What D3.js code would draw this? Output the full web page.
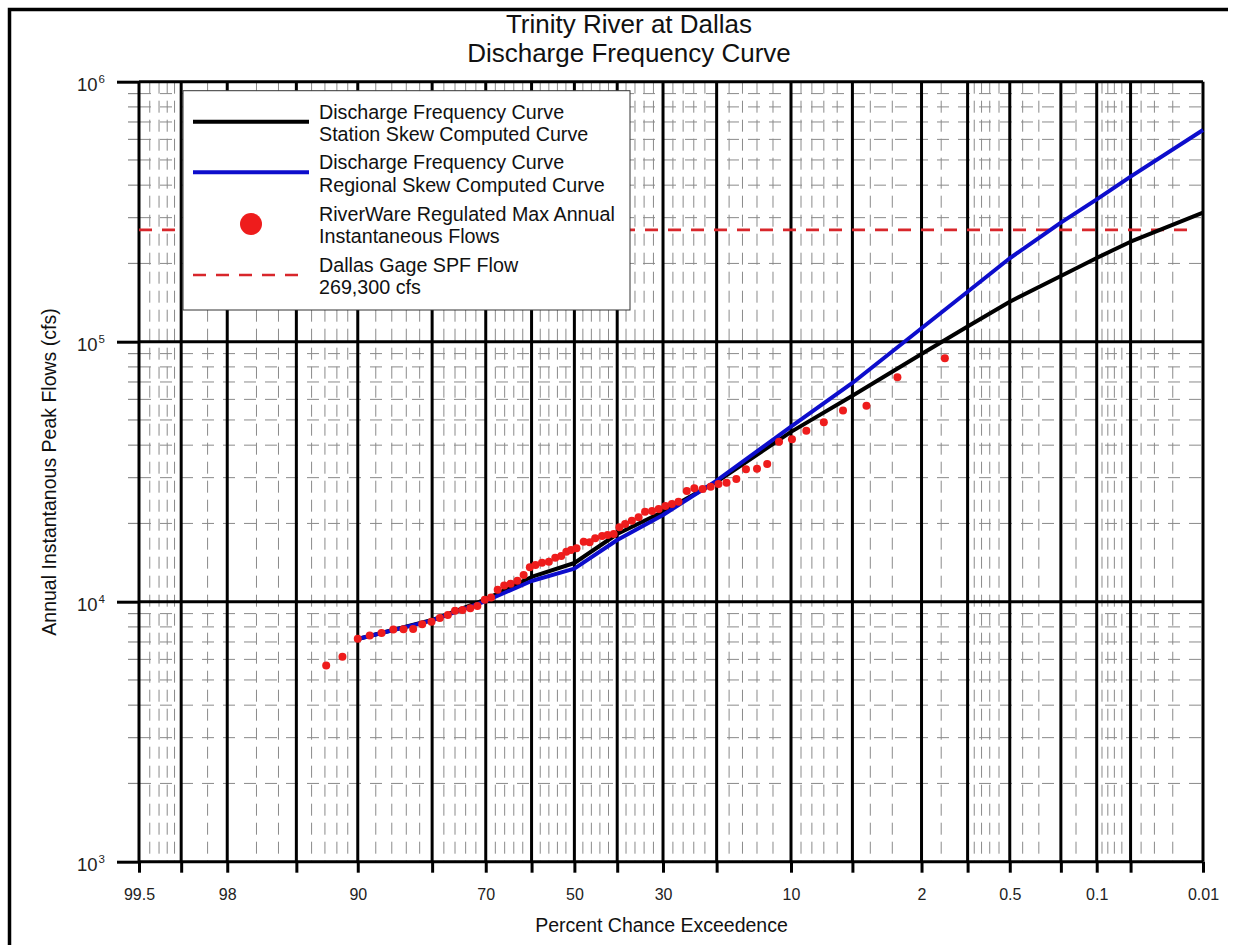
<!DOCTYPE html>
<html>
<head>
<meta charset="utf-8">
<script src="https://cdn.jsdelivr.net/npm/d3@7/dist/d3.min.js"></script>
<style>
  html, body { margin: 0; padding: 0; background: #fff; }
  svg { display: block; font-family: "Liberation Sans", Arial, sans-serif; }
</style>
</head>
<body>
<svg id="chart" width="1239" height="945"></svg>
<script>
// ---- Data ---------------------------------------------------------------
// Exceedance probabilities (%) at which the computed frequency curves are given
const curvePct = [90, 80, 70, 60, 50, 40, 30, 20, 10, 5, 2, 1, 0.5, 0.2, 0.1, 0.05, 0.01];
// Station skew computed curve (cfs)
const stationSkewCfs = [7190, 8500, 10210, 12450, 14090, 18210, 22190, 28900, 45000, 62000, 89700, 114500, 142500, 179000, 210000, 242400, 313400];
// Regional skew computed curve (cfs)
const regionalSkewCfs = [7190, 8480, 10060, 12010, 13400, 17270, 21560, 29200, 47100, 69400, 112600, 155700, 209400, 286900, 352900, 431100, 652000];

// RiverWare regulated max annual instantaneous flows: plotting position (%) and flow (cfs)
const observedPct = [92.9, 91.5, 90.0, 88.7, 87.3, 85.8, 84.4, 83.0, 81.6, 80.1,
  78.7, 77.3, 76.0, 74.6, 73.1, 71.7, 70.2, 68.9, 67.5, 66.1,
  64.7, 63.2, 61.8, 60.4, 59.1, 57.6, 56.0, 54.5, 53.1, 51.9,
  50.8, 49.5, 47.8, 46.4, 45.1, 43.5, 42.2, 40.8, 39.5, 38.2,
  36.7, 35.2, 33.8, 32.3, 30.9, 29.5, 28.2, 26.9, 25.3, 23.9,
  22.4, 21.0, 19.7, 18.4, 16.9, 15.5, 14.0, 12.7, 11.3, 9.9,
  8.5, 7.0, 5.6, 4.2, 2.8, 1.42];
const observedCfs = [5680, 6140, 7200, 7410, 7580, 7820, 7830, 7850, 8190, 8380,
  8660, 8890, 9230, 9290, 9430, 9630, 10180, 10380, 11120, 11540,
  11730, 12030, 12670, 13560, 13840, 14130, 14250, 14760, 14990, 15570,
  15810, 16050, 17010, 16920, 17530, 17890, 18050, 18210, 19330, 19900,
  20490, 21120, 22190, 22330, 22730, 23340, 23760, 24250, 26660, 27310,
  27140, 27690, 28360, 28690, 29650, 32300, 32470, 33850, 41250, 42130,
  45480, 48980, 54380, 56730, 72960, 86340];

// Standard project flood at the Dallas gage (cfs)
const spfFlow = 269300;

// Probability axis: heavy grid lines, labelled ticks and light grid lines
const majorPct = [99.5, 99, 98, 95, 90, 80, 70, 60, 50, 40, 30, 20, 10, 5, 2, 1, 0.5, 0.2, 0.1, 0.05, 0.01];
const labelledPct = ["99.5", "98", "90", "70", "50", "30", "10", "2", "0.5", "0.1", "0.01"];
const minorPct = [99.4, 99.3, 99.2, 99.1, 98.5, 97, 96, 94, 93, 92, 91, 88, 86, 84, 82,
  78, 76, 74, 72, 68, 66, 64, 62, 58, 56, 54, 52, 48, 46, 44, 42, 38, 36, 34, 32,
  28, 26, 24, 22, 18, 16, 14, 12, 9, 8, 7, 6, 4, 3, 1.5, 0.9, 0.8, 0.7, 0.6,
  0.4, 0.3, 0.15, 0.09, 0.08, 0.07, 0.06, 0.04, 0.03, 0.02];
// Flow axis decades and intermediate multipliers
const decades = [1e3, 1e4, 1e5, 1e6];
const decadeExp = ["3", "4", "5", "6"];
const minorMult = [2, 3, 4, 5, 6, 7, 8, 9];

const titleLines = ["Trinity River at Dallas", "Discharge Frequency Curve"];
const legendItems = [
  ["Discharge Frequency Curve", "Station Skew Computed Curve"],
  ["Discharge Frequency Curve", "Regional Skew Computed Curve"],
  ["RiverWare Regulated Max Annual", "Instantaneous Flows"],
  ["Dallas Gage SPF Flow", "269,300 cfs"]
];

// ---- Normal probability scale ---------------------------------------------
// Inverse standard normal CDF (Acklam's rational approximation)
function qnorm(p) {
  const a = [-3.969683028665376e+01, 2.209460984245205e+02, -2.759285104469687e+02, 1.383577518672690e+02, -3.066479806614716e+01, 2.506628277459239e+00];
  const b = [-5.447609879822406e+01, 1.615858368580409e+02, -1.556989798598866e+02, 6.680131188771972e+01, -1.328068155288572e+01];
  const c = [-7.784894002430293e-03, -3.223964580411365e-01, -2.400758277161838e+00, -2.549732539343734e+00, 4.374664141464968e+00, 2.938163982698783e+00];
  const d = [7.784695709041462e-03, 3.224671290700398e-01, 2.445134137142996e+00, 3.754408661907416e+00];
  const pl = 0.02425, ph = 1 - pl;
  if (p < pl) {
    const q = Math.sqrt(-2 * Math.log(p));
    return (((((c[0]*q+c[1])*q+c[2])*q+c[3])*q+c[4])*q+c[5]) / ((((d[0]*q+d[1])*q+d[2])*q+d[3])*q+1);
  }
  if (p <= ph) {
    const q = p - 0.5, r = q * q;
    return (((((a[0]*r+a[1])*r+a[2])*r+a[3])*r+a[4])*r+a[5])*q / (((((b[0]*r+b[1])*r+b[2])*r+b[3])*r+b[4])*r+1);
  }
  const q = Math.sqrt(-2 * Math.log(1 - p));
  return -(((((c[0]*q+c[1])*q+c[2])*q+c[3])*q+c[4])*q+c[5]) / ((((d[0]*q+d[1])*q+d[2])*q+d[3])*q+1);
}
const zOf = pct => qnorm(1 - pct / 100);

const plot = { left: 139, right: 1203, top: 81.7, bottom: 861.7 };
const xz = d3.scaleLinear().domain([zOf(99.5), zOf(0.01)]).range([plot.left, plot.right]);
const x = pct => xz(zOf(pct));
const y = d3.scaleLog().domain([1e3, 1e6]).range([plot.bottom, plot.top]);

const svg = d3.select("#chart");

// ---- Outer frame ------------------------------------------------------------
svg.append("path")
  .attr("d", "M9.5,945 L9.5,9.5 L1228,9.5")
  .attr("fill", "none").attr("stroke", "#000").attr("stroke-width", 3.5);

// ---- Light grid ---------------------------------------------------------------
const grid = svg.append("g");
grid.selectAll("line.vminor").data(minorPct).join("line")
  .attr("x1", d => x(d)).attr("x2", d => x(d))
  .attr("y1", plot.top).attr("y2", plot.bottom)
  .attr("stroke", "#8a8a8a").attr("stroke-width", 1)
  .attr("stroke-dasharray", "12,7");

const minorFlows = [];
decades.slice(0, 3).forEach(dec => minorMult.forEach(m => minorFlows.push(dec * m)));
grid.selectAll("line.hminor").data(minorFlows).join("line")
  .attr("x1", plot.left).attr("x2", plot.right)
  .attr("y1", d => y(d)).attr("y2", d => y(d))
  .attr("stroke", "#8a8a8a").attr("stroke-width", 1)
  .attr("stroke-dasharray", "12,9");
grid.selectAll("line.hminortick").data(minorFlows).join("line")
  .attr("x1", plot.left - 11).attr("x2", plot.left)
  .attr("y1", d => y(d)).attr("y2", d => y(d))
  .attr("stroke", "#8a8a8a").attr("stroke-width", 1.2);

// ---- Heavy grid -----------------------------------------------------------------
grid.selectAll("line.vmajor").data(majorPct).join("line")
  .attr("x1", d => x(d)).attr("x2", d => x(d))
  .attr("y1", plot.top).attr("y2", plot.bottom)
  .attr("stroke", "#000").attr("stroke-width", 3);
grid.selectAll("line.hmajor").data(decades).join("line")
  .attr("x1", plot.left).attr("x2", plot.right)
  .attr("y1", d => y(d)).attr("y2", d => y(d))
  .attr("stroke", "#000").attr("stroke-width", 3);

// ---- Axes -------------------------------------------------------------------------
const xAxis = d3.axisBottom(xz)
  .tickValues(majorPct.map(zOf))
  .tickSize(11)
  .tickPadding(15.6)
  .tickFormat((z, i) => labelledPct.includes(String(majorPct[i])) ? String(majorPct[i]) : "");
const gx = svg.append("g")
  .attr("transform", `translate(0,${plot.bottom})`)
  .call(xAxis);
gx.select(".domain").remove();
gx.selectAll(".tick line").attr("stroke", "#000").attr("stroke-width", 3);
gx.selectAll(".tick text").attr("font-size", 16).attr("fill", "#222")
  .attr("font-family", "Liberation Sans, Arial, sans-serif");

const yAxis = d3.axisLeft(y).tickValues(decades).tickSize(22).tickFormat("");
const gy = svg.append("g")
  .attr("transform", `translate(${plot.left},0)`)
  .call(yAxis);
gy.select(".domain").remove();
gy.selectAll(".tick line").attr("stroke", "#000").attr("stroke-width", 3);
gy.selectAll(".tick").each(function (d, i) {
  const t = d3.select(this);
  t.append("text").attr("x", -41.5).attr("y", 9)
    .attr("text-anchor", "end").attr("font-size", 18.5).attr("fill", "#222")
    .text("10");
  t.append("text").attr("x", -40.5).attr("y", 1)
    .attr("text-anchor", "start").attr("font-size", 11.5).attr("fill", "#222")
    .text(decadeExp[i]);
});

// ---- SPF reference line --------------------------------------------------------
svg.append("line")
  .attr("x1", plot.left).attr("x2", plot.right - 8)
  .attr("y1", y(spfFlow)).attr("y2", y(spfFlow))
  .attr("stroke", "#d8262b").attr("stroke-width", 2.6)
  .attr("stroke-dasharray", "13,10");

// ---- Frequency curves ------------------------------------------------------------
const line = d3.line().x(d => x(d[0])).y(d => y(d[1]));
svg.append("path")
  .datum(curvePct.map((p, i) => [p, stationSkewCfs[i]]))
  .attr("d", line).attr("fill", "none")
  .attr("stroke", "#000").attr("stroke-width", 4).attr("stroke-linejoin", "round");
svg.append("path")
  .datum(curvePct.map((p, i) => [p, regionalSkewCfs[i]]))
  .attr("d", line).attr("fill", "none")
  .attr("stroke", "#0d0dcc").attr("stroke-width", 4).attr("stroke-linejoin", "round");

// ---- Observed annual peaks -----------------------------------------------------------
svg.append("g").selectAll("circle")
  .data(observedPct.map((p, i) => [p, observedCfs[i]]))
  .join("circle")
  .attr("cx", d => x(d[0])).attr("cy", d => y(d[1])).attr("r", 4)
  .attr("fill", "#ee1c1c");

// ---- Legend -------------------------------------------------------------------------
const lg = svg.append("g");
lg.append("rect")
  .attr("x", 183).attr("y", 90.7).attr("width", 447).attr("height", 219.3)
  .attr("fill", "#fff").attr("stroke", "#333").attr("stroke-width", 1);
const rowY = [121.7, 172.3, 224, 275];
lg.append("line").attr("x1", 193).attr("x2", 309).attr("y1", rowY[0]).attr("y2", rowY[0])
  .attr("stroke", "#000").attr("stroke-width", 4);
lg.append("line").attr("x1", 193).attr("x2", 309).attr("y1", rowY[1]).attr("y2", rowY[1])
  .attr("stroke", "#0d0dcc").attr("stroke-width", 4);
lg.append("circle").attr("cx", 251).attr("cy", rowY[2]).attr("r", 11).attr("fill", "#ee1c1c");
lg.append("line").attr("x1", 193).attr("x2", 305).attr("y1", rowY[3]).attr("y2", rowY[3])
  .attr("stroke", "#d8262b").attr("stroke-width", 2.6).attr("stroke-dasharray", "13,10");
legendItems.forEach((lines, i) => {
  lines.forEach((s, j) => {
    lg.append("text")
      .attr("x", 319).attr("y", rowY[i] - 3.2 + j * 22.4)
      .attr("font-size", 19.7).attr("fill", "#111")
      .text(s);
  });
});

// ---- Titles -----------------------------------------------------------------------
titleLines.forEach((s, i) => {
  svg.append("text")
    .attr("x", 629).attr("y", 33.3 + i * 28.4)
    .attr("text-anchor", "middle").attr("font-size", 26).attr("fill", "#111")
    .text(s);
});
svg.append("text")
  .attr("x", 661.5).attr("y", 931.7)
  .attr("text-anchor", "middle").attr("font-size", 19.5).attr("fill", "#111")
  .text("Percent Chance Exceedence");
svg.append("text")
  .attr("transform", "translate(55.5,472) rotate(-90)")
  .attr("text-anchor", "middle").attr("font-size", 19.5).attr("fill", "#111")
  .text("Annual Instantanous Peak Flows (cfs)");
</script>
</body>
</html>
